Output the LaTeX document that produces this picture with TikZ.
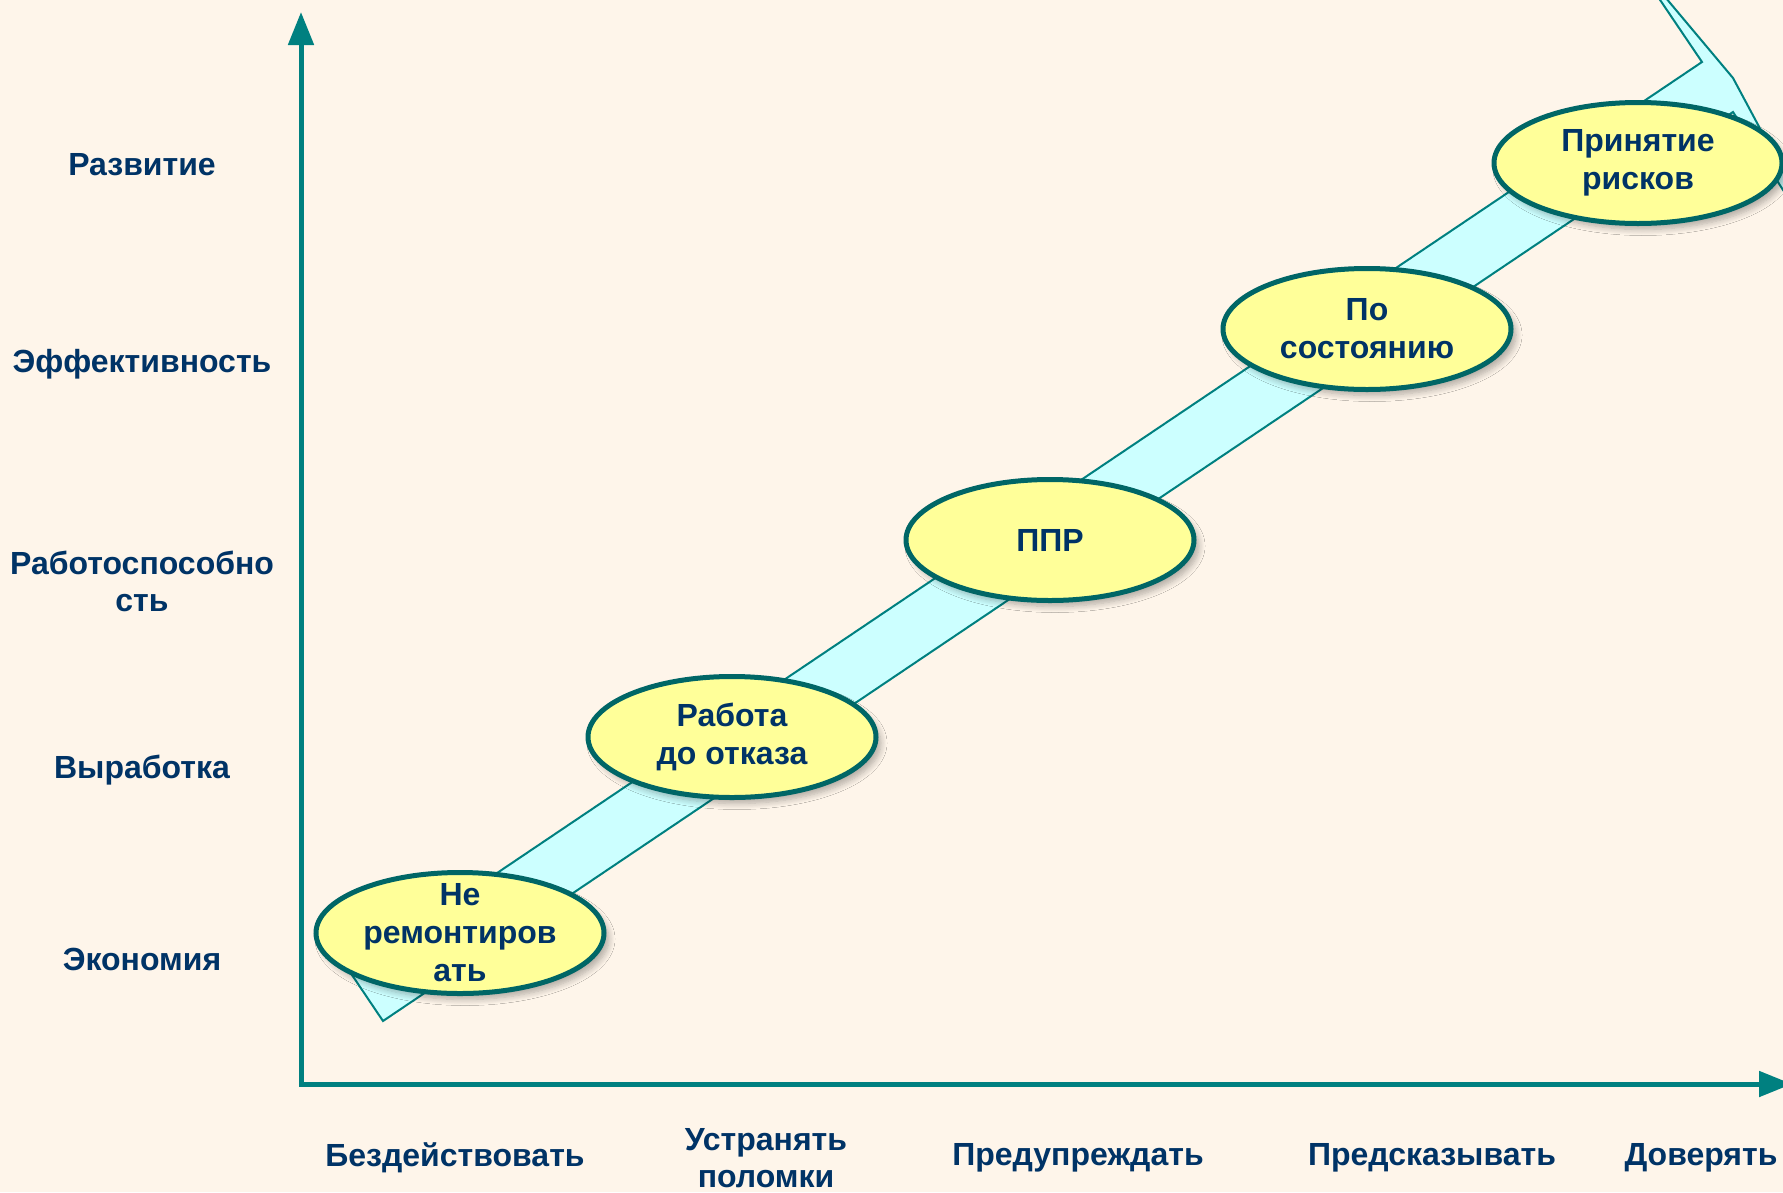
\documentclass[tikz,border=0pt]{standalone}
\usepackage{fontspec}
\setmainfont{Liberation Sans}
\usetikzlibrary{arrows.meta,shapes.geometric,shadows.blur}

\definecolor{paper}{RGB}{254,245,234}
\definecolor{axisteal}{RGB}{0,128,128}
\definecolor{rimteal}{RGB}{0,102,102}
\definecolor{bandfill}{RGB}{204,255,255}
\definecolor{ovalfill}{RGB}{255,255,153}
\definecolor{ink}{RGB}{0,51,102}

\tikzset{
  axis/.style={draw=axisteal, line width=5pt,
    {Triangle[length=33pt,width=25pt]}-{Triangle[length=33pt,width=25pt]}},
  band/.style={fill=bandfill, draw=axisteal, line width=2pt, line join=miter},
  stagetext/.style={text=ink, align=center, inner sep=0pt,
    font=\fontsize{32}{38}\selectfont\bfseries},
  stage/.style={ellipse, draw=rimteal, line width=5pt, fill=ovalfill,
    minimum width=288pt, minimum height=121pt, inner sep=0pt,
    blur shadow={shadow xshift=5pt, shadow yshift=-6pt,
      shadow blur radius=6pt, shadow opacity=30, shadow blur steps=8},
    label={[stagetext]center:#1}},
  level/.style={text=ink, align=center, font=\fontsize{32}{37}\selectfont\bfseries},
}

\begin{document}
\begin{tikzpicture}[x=1pt, y=-1pt]
  \useasboundingbox (0,0) rectangle (1783,1192);
  \clip (0,0) rectangle (1783,1192);
  \fill[paper] (0,0) rectangle (1783,1192);

  % rising arrow band behind the stages
  \draw[band] (383,1021) -- (350,972) -- (1702,62) -- (1629,-46)
    -- (1733,78) -- (1810,222) -- (1810,232) -- (1733,112) -- cycle;

  % axes
  \coordinate (ytop) at (301,12);
  \coordinate (origin) at (301,1084);
  \coordinate (xend) at (1792,1084);
  \draw[axis] (ytop) -- (origin) -- (xend);

  % vertical levels
  \node[level] (l1) at (142,165) {Развитие};
  \node[level] (l2) at (142,364) {Эффективность};
  \node[level] (l3) at (142,581) {Работоспособно\\сть};
  \node[level] (l4) at (142,770) {Выработка};
  \node[level] (l5) at (142,959) {Экономия};

  % horizontal strategies
  \node[level] (s1) at (455,1158) {Бездействовать};
  \node[level] (s2) at (766,1158) {Устранять\\поломки};
  \node[level] (s3) at (1078,1158) {Предупреждать};
  \node[level] (s4) at (1432,1158) {Предсказывать};
  \node[level] (s5) at (1701,1158) {Доверять};

  % maintenance stages
  \node[stage={Не\\ремонтиров\\ать}] (n1) at (460,933) {};
  \node[stage={Работа\\до отказа}] (n2) at (732,737) {};
  \node[stage={ППР}] (n3) at (1050,540) {};
  \node[stage={По\\состоянию}] (n4) at (1367,329) {};
  \node[stage={Принятие\\рисков}] (n5) at (1638,163) {};
\end{tikzpicture}
\end{document}
